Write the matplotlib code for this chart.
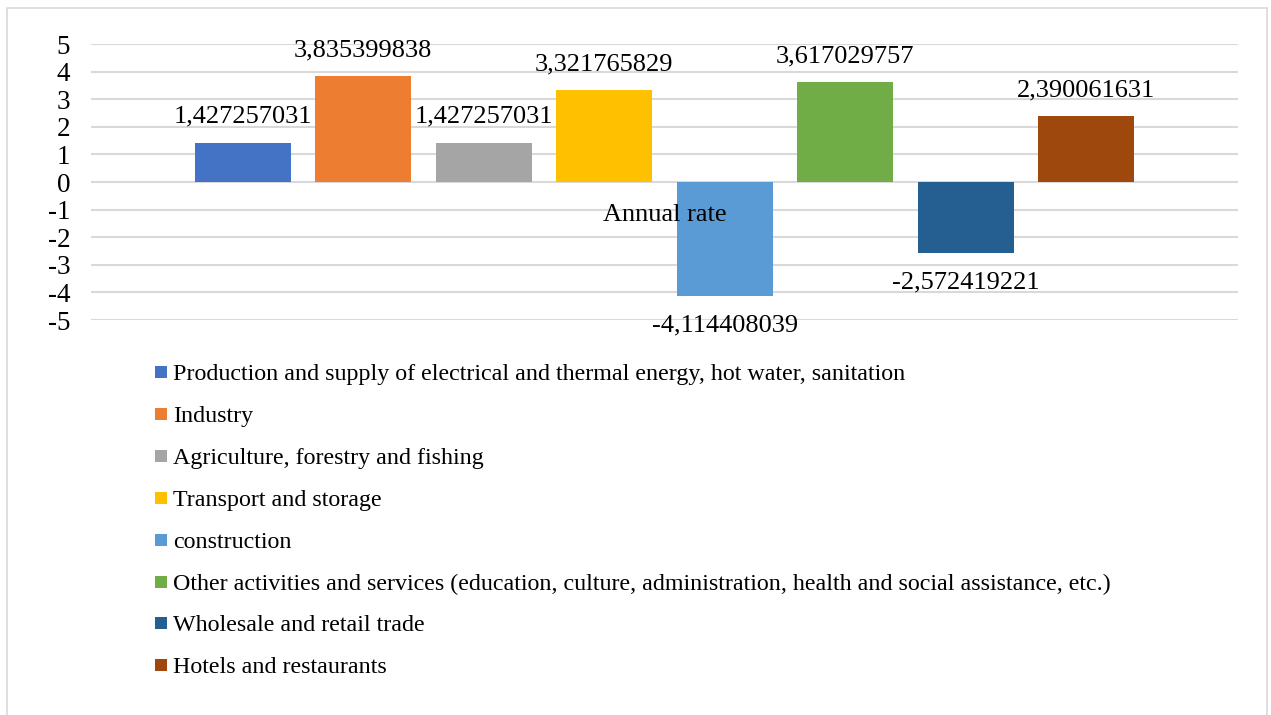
import matplotlib
matplotlib.use("Agg")
import matplotlib.pyplot as plt
from matplotlib.patches import Rectangle

categories = [
    "Production and supply of electrical and thermal energy, hot water, sanitation",
    "Industry",
    "Agriculture, forestry and fishing",
    "Transport and storage",
    "construction",
    "Other activities and services (education, culture, administration, health and social assistance, etc.)",
    "Wholesale and retail trade",
    "Hotels and restaurants",
]
values = [1.427257031, 3.835399838, 1.427257031, 3.321765829,
          -4.114408039, 3.617029757, -2.572419221, 2.390061631]
colors = ["#4472C4", "#ED7D31", "#A5A5A5", "#FFC000",
          "#5B9BD5", "#70AD47", "#255E91", "#9E480E"]
yticks = [5, 4, 3, 2, 1, 0, -1, -2, -3, -4, -5]
axis_label = "Annual rate"

plt.rcParams['font.family'] = ['Liberation Serif', 'DejaVu Serif']

W, H = 1271, 715
fig = plt.figure(figsize=(W / 100, H / 100), dpi=100)

def fx(px):
    return px / W

def fy(py):
    return 1 - py / H

# outer border
fig.add_artist(Rectangle((fx(7), fy(717)), fx(1267) - fx(7), fy(8) - fy(717),
                         transform=fig.transFigure, fill=False,
                         edgecolor="#d9d9d9", linewidth=1.2))

ax = fig.add_axes([fx(91), fy(320), fx(1238) - fx(91), fy(44) - fy(320)])
x = list(range(len(values)))
ax.bar(x, values, width=0.8, color=colors, zorder=3)
ax.set_xlim(-1.26, len(values) - 1 + 1.26)
ax.set_ylim(-5, 5)
ax.set_yticks(yticks)
ax.set_yticklabels([str(t) for t in yticks], fontsize=19.5)
ax.tick_params(axis='y', length=0, pad=15)
ax.set_xticks([])
for s in ax.spines.values():
    s.set_visible(False)
ax.yaxis.grid(True, color="#d9d9d9", linewidth=1.5, zorder=0)

for xi, v in zip(x, values):
    txt = f"{v:.9f}".replace('.', ',')
    off = 18.5 if v >= 0 else -21.5
    ax.annotate(txt, (xi, v), xytext=(0, off), textcoords="offset points",
                ha="center", va="center", fontsize=19)

ax.annotate(axis_label, ((len(values) - 1) / 2, 0), xytext=(0, -24),
            textcoords="offset points", ha="center", va="center", fontsize=19)

# legend
y0 = 373
dy = 41.9
for i, (cat, col) in enumerate(zip(categories, colors)):
    yc = y0 + i * dy
    fig.add_artist(Rectangle((fx(155), fy(yc + 5)), fx(12), 12 / H,
                             transform=fig.transFigure, facecolor=col,
                             edgecolor="none"))
    fig.text(fx(173), fy(yc + 1.5), cat, ha="left", va="center", fontsize=17.3)

fig.savefig("out.png", dpi=100)
